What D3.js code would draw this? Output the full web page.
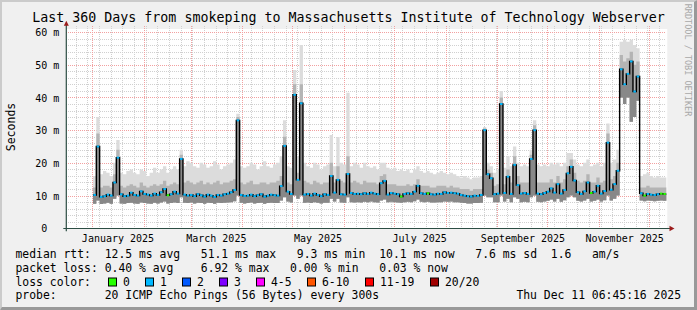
<!DOCTYPE html>
<html>
<head>
<meta charset="utf-8">
<script src="https://cdn.jsdelivr.net/npm/d3@7"></script>
<style>
  body { margin: 0; background: #f0f0f0; }
  svg { display: block; font-family: "DejaVu Sans Mono", monospace; }
  text { white-space: pre; }
</style>
</head>
<body>
<svg id="chart" width="697" height="310"></svg>
<script>
// 360 days ending at the graph time, 2-day steps
const endTime = new Date(Date.UTC(2025, 11, 11, 6, 45, 16));
const spanDays = 360;
const stepDays = 2;

const median = [
  null, null, null, null, null, null, null, null, 10.2, 25.0,
  9.6, 9.8, 10.3, 10.0, 14.0, 21.6, 10.4, 9.8, 10.0, 10.9,
  10.2, 10.0, 11.3, 10.5, 10.3, 10.0, 10.6, 10.2, 11.0, 12.0,
  10.1, 10.4, 11.2, 10.6, 21.2, 10.3, 10.0, 10.2, 9.8, 10.4,
  10.1, 9.7, 10.3, 10.0, 9.6, 10.2, 10.0, 10.4, 10.6, 11.0,
  11.7, 33.0, 10.2, 9.9, 10.0, 10.3, 9.8, 10.1, 10.4, 9.7,
  10.0, 10.3, 10.1, 10.0, 12.9, 25.2, 11.2, 10.5, 40.8, 14.8,
  38.2, 10.3, 10.5, 10.0, 10.6, 10.2, 9.8, 10.4, 10.2, 16.0,
  10.9, 14.8, 10.4, 10.3, 16.6, 10.8, 10.5, 10.6, 10.4, 10.7,
  10.5, 10.9, 10.6, 10.4, 13.8, 14.5, 10.3, 10.8, 10.6, 10.4,
  9.7, 10.5, 10.7, 10.5, 11.2, 13.0, 10.7, 10.5, 10.7, 10.4,
  10.3, 10.6, 10.5, 11.0, 10.8, 10.9, 10.7, 10.6, 10.2, 10.0,
  9.8, 9.7, 10.0, 9.9, 10.2, 30.0, 16.5, 15.3, 10.4, 10.6,
  38.0, 10.8, 15.8, 10.5, 19.4, 13.2, 10.6, 10.8, 10.5, 21.2,
  30.0, 10.6, 10.4, 10.8, 11.2, 12.2, 10.9, 13.5, 10.6, 11.7,
  16.8, 18.8, 14.6, 11.0, 10.5, 11.3, 14.0, 10.8, 11.2, 13.0,
  10.6, 11.4, 26.2, 11.8, 13.5, 17.6, 48.6, 44.0, 47.2, 51.0,
  41.8, 46.4, 10.7, 10.0, 10.5, 10.3, 10.2, 10.4, 10.6, 10.5
];

const smokeMax = [
  null, null, null, null, null, null, null, null, 16.0, 34.0,
  16.5, 17.5, 17.0, 16.0, 20.0, 27.0, 17.0, 16.5, 17.5, 18.0,
  17.0, 16.5, 18.0, 17.5, 16.0, 17.0, 18.5, 17.0, 18.0, 19.0,
  17.0, 18.0, 19.0, 18.0, 24.0, 19.0, 20.5, 20.0, 19.0, 18.5,
  20.0, 19.5, 18.5, 19.0, 20.5, 19.5, 18.0, 19.0, 19.5, 20.0,
  21.0, 35.0, 19.0, 18.5, 19.0, 20.0, 19.5, 18.0, 19.0, 20.5,
  19.0, 18.5, 19.5, 20.0, 22.0, 33.0, 19.0, 18.5, 48.4, 22.0,
  56.0, 20.0, 19.0, 18.5, 20.0, 19.5, 18.0, 19.0, 19.5, 28.5,
  19.0, 27.9, 20.0, 19.5, 41.4, 19.0, 20.0, 19.5, 18.5, 20.0,
  19.0, 18.5, 19.0, 18.0, 20.0, 20.0, 18.5, 18.0, 18.5, 17.5,
  18.0, 17.5, 18.0, 17.0, 18.0, 19.0, 17.5, 17.0, 17.5, 17.0,
  16.5, 17.0, 17.5, 17.0, 16.5, 17.0, 16.5, 16.0, 15.5, 16.0,
  15.5, 15.0, 15.5, 15.5, 16.0, 31.0, 20.0, 19.0, 17.0, 18.0,
  42.0, 18.5, 22.0, 19.0, 25.0, 20.0, 19.0, 19.5, 19.0, 24.0,
  33.0, 19.5, 19.0, 19.5, 19.0, 20.0, 19.5, 20.0, 19.0, 20.0,
  23.0, 23.0, 21.0, 19.5, 19.0, 20.0, 21.0, 19.0, 19.5, 20.0,
  19.0, 20.0, 32.0, 20.0, 21.0, 24.0, 57.0, 57.6, 57.0, 57.6,
  56.0, 55.0, 16.0, 16.5, 17.0, 16.0, 15.5, 16.0, 15.5, 15.5
];

const smokeMid = [
  null, null, null, null, null, null, null, null, 12.5, 29.0,
  12.5, 13.0, 13.0, 12.5, 16.5, 24.0, 13.0, 12.5, 13.0, 13.5,
  13.0, 12.5, 14.0, 13.0, 12.5, 13.0, 13.5, 13.0, 13.5, 14.5,
  13.0, 13.5, 14.0, 13.5, 22.5, 14.0, 14.5, 14.0, 13.5, 14.0,
  14.5, 13.5, 14.0, 13.5, 14.0, 14.5, 13.5, 14.0, 14.0, 14.5,
  15.0, 34.0, 14.0, 13.5, 14.0, 14.5, 13.5, 13.5, 14.0, 14.0,
  13.5, 14.0, 14.0, 14.5, 16.0, 28.0, 14.0, 13.5, 44.0, 17.0,
  44.0, 14.5, 14.0, 13.5, 14.5, 14.0, 13.5, 14.0, 14.0, 20.0,
  14.0, 19.0, 14.5, 14.0, 22.0, 14.0, 14.5, 14.0, 13.5, 14.5,
  14.0, 14.0, 14.0, 13.5, 16.0, 16.5, 13.5, 13.5, 13.5, 13.0,
  13.0, 13.0, 13.5, 13.0, 13.5, 15.0, 13.0, 13.0, 13.0, 12.5,
  12.5, 13.0, 13.0, 13.0, 12.5, 13.0, 12.5, 12.5, 12.0, 12.0,
  12.0, 11.5, 12.0, 12.0, 12.0, 30.5, 18.0, 17.0, 13.0, 13.5,
  40.0, 13.5, 18.0, 14.0, 22.0, 16.0, 14.0, 14.0, 14.0, 22.5,
  31.5, 14.0, 14.0, 14.0, 14.0, 15.0, 14.0, 16.0, 14.0, 15.0,
  19.0, 21.0, 17.0, 14.5, 14.0, 14.5, 16.5, 14.0, 14.0, 15.5,
  14.0, 14.5, 29.0, 15.0, 16.0, 20.0, 53.0, 51.0, 52.0, 54.0,
  50.0, 51.0, 12.5, 12.5, 13.0, 12.5, 12.5, 12.5, 12.5, 12.5
];

const smokeMin = [
  null, null, null, null, null, null, null, null, 7.5, 8.5,
  7.4, 7.6, 7.8, 7.5, 9.0, 10.0, 7.6, 7.5, 7.7, 7.8,
  7.6, 7.5, 7.9, 7.7, 7.6, 7.5, 7.8, 7.6, 7.9, 8.2,
  7.6, 7.7, 7.9, 7.7, 9.5, 7.8, 7.7, 7.9, 7.6, 7.8,
  7.7, 7.5, 7.8, 7.7, 7.5, 7.8, 7.7, 7.8, 7.9, 8.0,
  8.3, 10.0, 7.8, 7.6, 7.7, 7.9, 7.6, 7.7, 7.8, 7.5,
  7.7, 7.8, 7.7, 7.7, 8.5, 9.5, 8.2, 7.9, 10.0, 9.0,
  10.0, 7.8, 7.9, 7.7, 8.0, 7.8, 7.6, 7.8, 7.8, 9.0,
  8.2, 9.0, 7.9, 7.8, 9.5, 8.0, 7.9, 8.0, 7.9, 8.1,
  8.0, 8.2, 8.0, 7.9, 8.5, 8.8, 8.0, 8.1, 8.0, 7.9,
  7.8, 8.0, 8.1, 8.0, 8.3, 8.8, 8.1, 8.0, 8.1, 7.9,
  7.9, 8.0, 8.0, 8.2, 8.1, 8.2, 8.0, 8.0, 7.8, 7.7,
  7.6, 7.6, 7.7, 7.7, 7.8, 10.0, 9.5, 9.5, 8.0, 8.0,
  10.0, 8.2, 9.0, 8.0, 9.5, 9.0, 8.0, 8.1, 8.0, 9.5,
  10.0, 8.1, 8.0, 8.2, 8.4, 8.8, 8.2, 9.0, 8.1, 8.6,
  9.5, 10.0, 9.5, 8.4, 8.2, 8.5, 9.0, 8.2, 8.4, 8.8,
  8.2, 8.6, 10.0, 8.5, 9.0, 10.0, 40.0, 38.0, 40.0, 32.6,
  34.0, 39.0, 8.5, 8.3, 8.5, 8.4, 8.3, 8.4, 8.5, 8.4
];

// steps where no ping was lost (drawn green), all others lost ~1 of 20
const zeroLossSteps = [30, 100, 108, 157, 173, 178, 179];

const yTicks = [0, 10, 20, 30, 40, 50, 60];
const xLabelMonths = ["2025-01-01", "2025-03-01", "2025-05-01", "2025-07-01", "2025-09-01", "2025-11-01"];

const title = "Last 360 Days from smokeping to Massachusetts Institute of Technology Webserver";
const rttStats = ["12.5 ms avg", "51.1 ms max", "9.3 ms min", "10.1 ms now", "7.6 ms sd", "1.6", "am/s"];
const lossStats = ["0.40 % avg", "6.92 % max", "0.00 % min", "0.03 % now"];
const lossLabels = ["0", "1", "2", "3", "4-5", "6-10", "11-19", "20/20"];
const lossColors = ["#26ff00", "#00b8ff", "#0059ff", "#7e00ff", "#ff00ff", "#ff5500", "#ff0000", "#a10000"];
const probeText = "20 ICMP Echo Pings (56 Bytes) every 300s";
const stampText = "Thu Dec 11 06:45:16 2025";

const W = 697, H = 310;
const plot = { left: 66.3, right: 666.3, top: 32, bottom: 228.3 };
const DAY = 86400000;
const startTime = new Date(endTime - spanDays * DAY);

const svg = d3.select("#chart");
const x = d3.scaleUtc().domain([startTime, endTime]).range([plot.left, plot.right]);
const y = d3.scaleLinear().domain([0, 60]).range([plot.bottom, plot.top]);
const stepTime = i => new Date(+startTime + i * stepDays * DAY);

// frame
svg.append("rect").attr("width", W).attr("height", H).attr("fill", "#f0f0f0");
svg.append("path").attr("d", `M0,0H${W}L${W - 2},2H2V${H - 2}L0,${H}Z`).attr("fill", "#cbcbcb");
svg.append("path").attr("d", `M${W},${H}H0L2,${H - 3}H${W - 3}V2L${W},0Z`).attr("fill", "#999999");
svg.append("rect")
  .attr("x", plot.left).attr("y", 29)
  .attr("width", plot.right - plot.left + 1).attr("height", plot.bottom - 29)
  .attr("fill", "#ffffff");

// grid
const grid = svg.append("g").attr("shape-rendering", "crispEdges").attr("stroke-dasharray", "1,1");
const minorY = d3.range(2, 60, 2).filter(v => v % 10 !== 0);
grid.selectAll(".hmin").data(minorY).join("line")
  .attr("x1", plot.left).attr("x2", plot.right)
  .attr("y1", d => Math.round(y(d)) + 0.5).attr("y2", d => Math.round(y(d)) + 0.5)
  .attr("stroke", "#d0d0d0");
const months = d3.utcMonth.range(startTime, endTime);
const weeks = d3.utcSunday.range(startTime, endTime).filter(d => d.getUTCDate() !== 1);
grid.selectAll(".vmin").data(weeks).join("line")
  .attr("x1", d => Math.round(x(d)) + 0.5).attr("x2", d => Math.round(x(d)) + 0.5)
  .attr("y1", 26).attr("y2", plot.bottom)
  .attr("stroke", "#d0d0d0");
grid.selectAll(".hmaj").data(yTicks.slice(1)).join("line")
  .attr("x1", plot.left).attr("x2", plot.right)
  .attr("y1", d => Math.round(y(d)) + 0.5).attr("y2", d => Math.round(y(d)) + 0.5)
  .attr("stroke", "#f2a0a0");
grid.selectAll(".vmaj").data(months).join("line")
  .attr("x1", d => Math.round(x(d)) + 0.5).attr("x2", d => Math.round(x(d)) + 0.5)
  .attr("y1", 26).attr("y2", plot.bottom)
  .attr("stroke", "#f2a0a0");

// step series -> polyline points with breaks on missing values
const band = (lo, hi) => median.map((m, i) => ({ i, lo: lo[i], hi: hi[i] }))
  .flatMap(d => [{ t: stepTime(d.i), lo: d.lo, hi: d.hi }, { t: stepTime(d.i + 1), lo: d.lo, hi: d.hi }]);
const area = d3.area()
  .defined(d => d.lo != null && d.hi != null)
  .x(d => x(d.t)).y0(d => y(d.lo)).y1(d => y(d.hi));

const smoke = svg.append("g");
smoke.append("path").datum(band(smokeMin, smokeMax)).attr("fill", "#dcdcdc").attr("d", area);
smoke.append("path").datum(band(smokeMin, smokeMid)).attr("fill", "#b4b4b4").attr("d", area);
smoke.append("path").datum(band(smokeMin, median)).attr("fill", "#888888").attr("d", area);

const medPts = median.flatMap((m, i) => [{ t: stepTime(i), v: m }, { t: stepTime(i + 1), v: m }]);
svg.append("path").datum(medPts)
  .attr("fill", "none").attr("stroke", "#000").attr("stroke-width", 1.4)
  .attr("d", d3.line().defined(d => d.v != null).x(d => x(d.t)).y(d => y(d.v)));

svg.append("g").selectAll("line")
  .data(median.map((v, i) => ({ i, v })).filter(d => d.v != null))
  .join("line")
  .attr("x1", d => x(stepTime(d.i)) + 0.4).attr("x2", d => x(stepTime(d.i + 1)) - 0.4)
  .attr("y1", d => y(d.v)).attr("y2", d => y(d.v))
  .attr("stroke", d => zeroLossSteps.includes(d.i) ? lossColors[0] : lossColors[1])
  .attr("stroke-width", 2);

// axes
const axisCol = "#2c4d43";
svg.append("line").attr("x1", plot.left - 3).attr("x2", 670).attr("y1", plot.bottom + 0.2).attr("y2", plot.bottom + 0.2)
  .attr("stroke", axisCol).attr("stroke-width", 1.2);
svg.append("line").attr("x1", plot.left).attr("x2", plot.left).attr("y1", plot.bottom + 3).attr("y2", 25)
  .attr("stroke", axisCol).attr("stroke-width", 1.2);
svg.append("path").attr("d", `M669.5,225.8L674.5,228.5L669.5,231.2Z`).attr("fill", "#9b1c1c");
svg.append("path").attr("d", `M63.8,25.8L66.3,20.8L68.8,25.8Z`).attr("fill", "#9b1c1c");

const yAxis = svg.append("g")
  .attr("transform", `translate(${plot.left},0)`)
  .call(d3.axisLeft(y).tickValues(yTicks).tickSize(0).tickPadding(7)
    .tickFormat(d => d === 0 ? "0  " : `${d} m`));
yAxis.select(".domain").remove();
yAxis.selectAll("text").attr("font-family", "DejaVu Sans Mono").attr("font-size", 10)
  .attr("fill", "#000").attr("dy", "0.36em");

const labelDates = xLabelMonths.map(s => new Date(+new Date(s + "T00:00:00Z") + 15 * DAY));
const xAxis = svg.append("g")
  .attr("transform", `translate(0,${plot.bottom})`)
  .call(d3.axisBottom(x).tickValues(labelDates).tickSize(0).tickPadding(7)
    .tickFormat(d3.utcFormat("%B %Y")));
xAxis.select(".domain").remove();
xAxis.selectAll("text").attr("font-family", "DejaVu Sans Mono").attr("font-size", 10).attr("fill", "#000");

// titles
svg.append("text").attr("x", 348.5).attr("y", 22.3).attr("text-anchor", "middle")
  .attr("font-size", 13.3).text(title);
svg.append("text").attr("transform", "translate(15,127) rotate(-90)").attr("text-anchor", "middle")
  .attr("font-size", 11.5).text("Seconds");
svg.append("text").attr("transform", "translate(685,60) rotate(90)").attr("text-anchor", "middle")
  .attr("font-size", 8.5).attr("fill", "#a8a8a8").text("RRDTOOL / TOBI OETIKER");

// legend: monospace columns
const fs = 11.4, adv = fs * 0.602, lx = 15.5;
const colX = c => lx + c * adv;
const leg = svg.append("g").attr("font-size", fs).attr("fill", "#000");
const rows = [258.3, 272, 285.7, 299.3];
const put = (s, px, row) => leg.append("text").attr("x", px).attr("y", rows[row]).text(s);
put("median rtt:", lx, 0);
rttStats.forEach((s, i) => put(s, colX([13, 27, 41, 53, 67, 78, 84][i]), 0));
put("packet loss:", lx, 1);
lossStats.forEach((s, i) => put(s, colX([13, 27, 40, 53][i]), 1));
put("loss color:", lx, 2);
const boxX = [108.5, 145.5, 182.5, 219.5, 256.5, 307.5, 365.5, 430.5];
lossLabels.forEach((s, i) => {
  leg.append("rect").attr("x", boxX[i]).attr("y", 278).attr("width", 8).attr("height", 8)
    .attr("fill", lossColors[i]).attr("stroke", "#000").attr("stroke-width", 1);
  put(s, boxX[i] + 14.5, 2);
});
put("probe:", lx, 3);
put(probeText, colX(13), 3);
leg.append("text").attr("x", 681).attr("y", rows[3]).attr("text-anchor", "end").text(stampText);
</script>
</body>
</html>
